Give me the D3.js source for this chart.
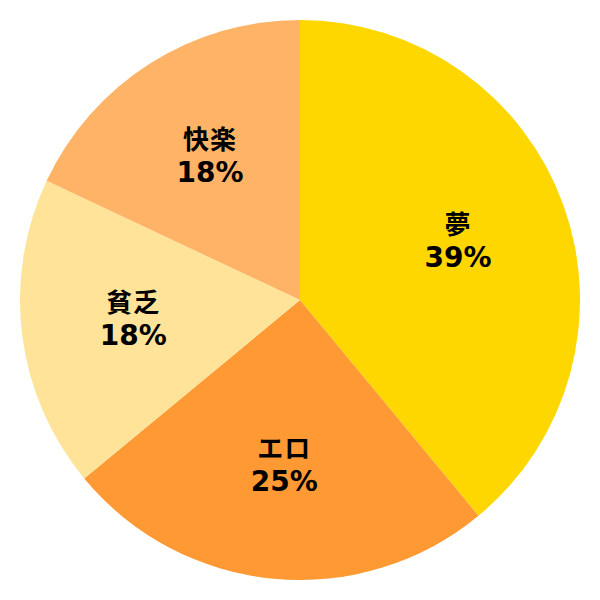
<!DOCTYPE html>
<meta charset="utf-8">
<script src="https://d3js.org/d3.v7.min.js"></script>
<style>
  body { margin: 0; background: #fff; }
</style>
<div id="chart"></div>
<script>
  // slices, clockwise from the top
  const labels = ["夢", "エロ", "貧乏", "快楽"]
  const values = [39, 25, 18, 18]
  const colors = ["#ffd700", "#ff9933", "#ffe399", "#ffb366"]

  const width = 600
  const height = 600
  const radius = 280

  const svg = d3.select("#chart")
    .append("svg")
      .attr("width", width)
      .attr("height", height)

  const g = svg.append("g")
    .attr("transform", `translate(${width / 2},${height / 2})`)

  const data = labels.map((d, i) => ({ label: d, value: values[i], color: colors[i] }))

  const pie = d3.pie()
    .sort(null)
    .value(d => d.value)

  const arc = d3.arc()
    .innerRadius(0)
    .outerRadius(radius)

  // label arc sits at ~60% of the radius
  const labelArc = d3.arc()
    .innerRadius(radius * 0.6)
    .outerRadius(radius * 0.6)

  const arcs = pie(data)

  g.selectAll("path")
    .data(arcs)
    .join("path")
      .attr("d", arc)
      .attr("fill", d => d.data.color)

  const text = g.selectAll("text")
    .data(arcs)
    .join("text")
      .attr("transform", d => `translate(${labelArc.centroid(d)})`)
      .attr("text-anchor", "middle")
      .style("font-family", "'DejaVu Sans', 'Noto Sans CJK JP', sans-serif")
      .style("font-weight", "bold")
      .style("font-size", "28px")
      .attr("fill", "#000")

  text.append("tspan")
    .attr("x", 0)
    .attr("y", -9)
    .style("font-size", "26px")
    .style("letter-spacing", "1px")
    .text(d => d.data.label)

  text.append("tspan")
    .attr("x", 0)
    .attr("y", 24)
    .text(d => d.data.value + "%")
</script>
